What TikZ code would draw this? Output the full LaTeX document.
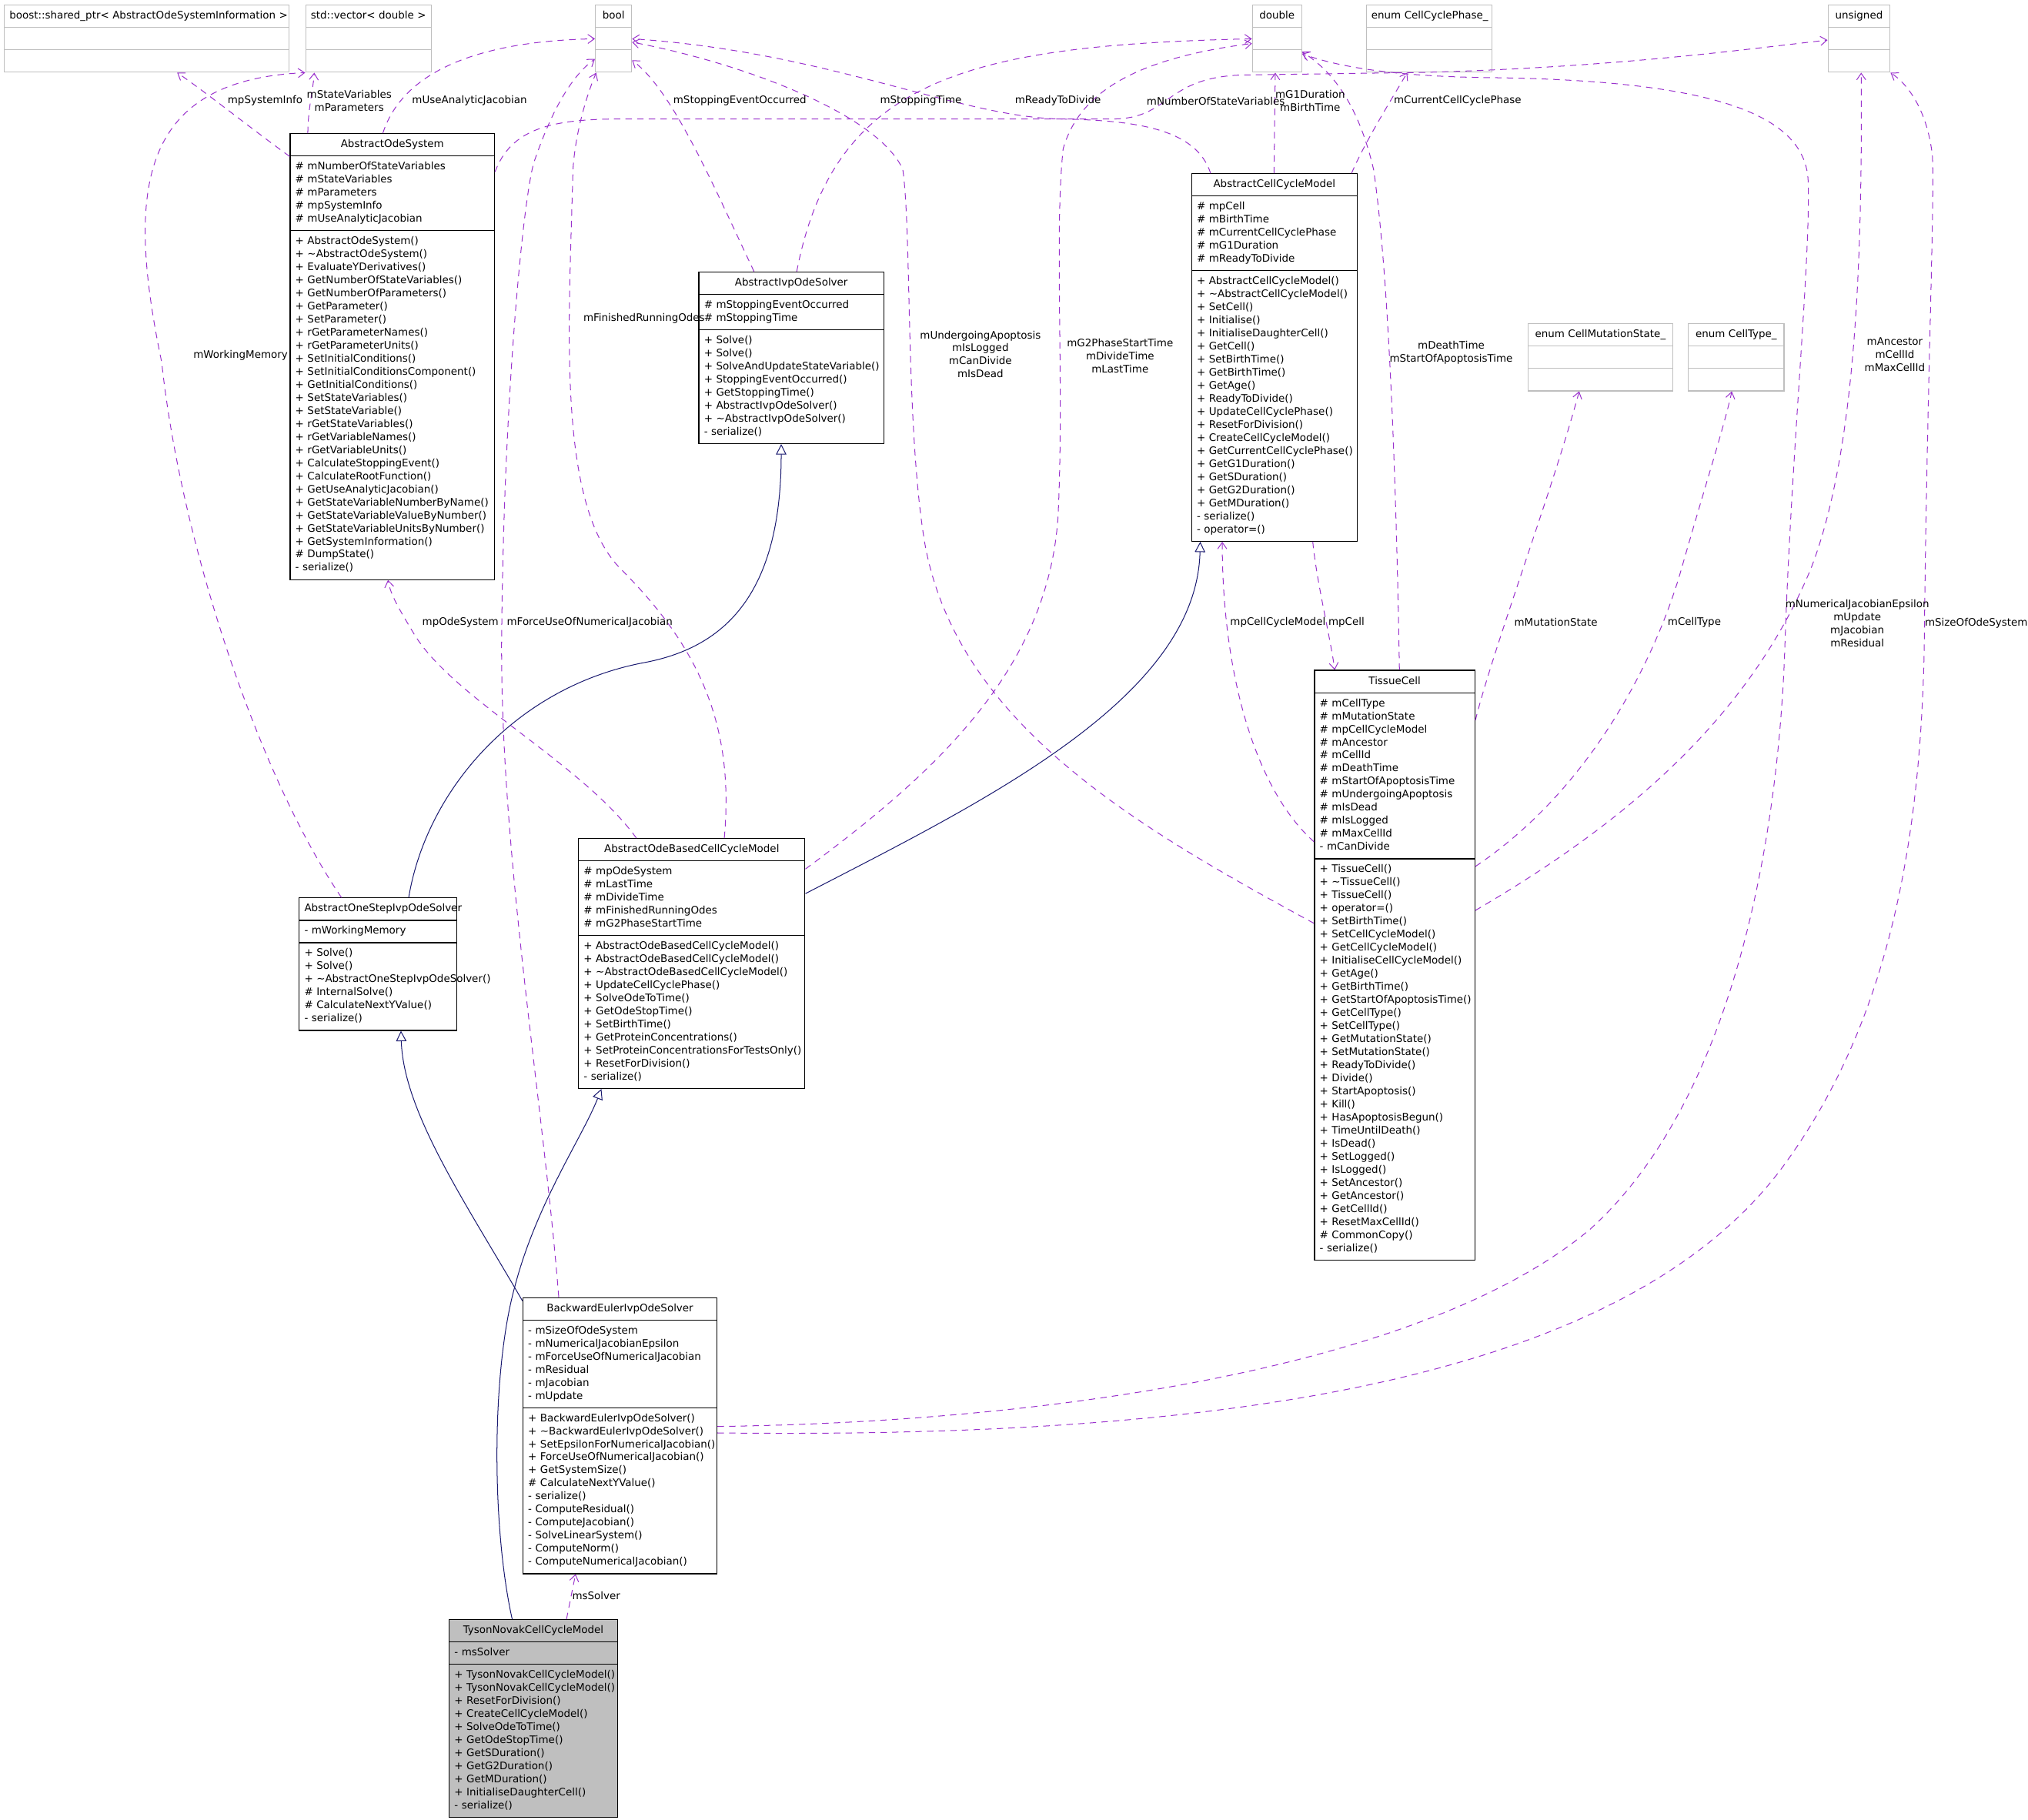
\documentclass[tikz,border=0pt]{standalone}
\usepackage{fontspec}
\newfontfamily\dxfont{DejaVu Sans}
\usetikzlibrary{shapes.multipart,arrows.meta}
\definecolor{dxpurple}{HTML}{9A32CD}
\definecolor{dxblue}{HTML}{191970}
\definecolor{dxgray}{HTML}{BFBFBF}
\newcommand{\dxsize}{\dxfont\fontsize{8}{10.1}\selectfont\parindent=0pt\hyphenpenalty=10000\exhyphenpenalty=10000}
\newcommand{\mpub}{+~}
\newcommand{\mpro}{\#~}
\newcommand{\mpri}{-~}
\newcommand{\dtor}{\textasciitilde}
\newcommand{\dxtitle}[1]{\centering\strut#1\strut\par}
\tikzset{
  dxclass/.style={rectangle split, rectangle split parts=3, draw=black, line width=0.7pt, fill=white, anchor=north west, inner xsep=4pt, inner ysep=3.25pt, align=left, font=\dxsize},
  dxtype/.style={dxclass, draw=dxgray},
  dxuse/.style={draw=dxpurple, line width=0.6pt, dash pattern=on 5pt off 4pt, -{Straight Barb[length=5pt,width=7pt]}},
  dxinherit/.style={draw=dxblue, line width=0.6pt, -{Triangle[open,length=8pt,width=8pt]}},
  dxlabel/.style={font=\dxsize, inner sep=0pt, align=center}
}

\begin{document}
\begin{tikzpicture}[x=1pt, y=-1pt]
\fill[white] (0,0) rectangle (1568,1407);
\useasboundingbox (0,0) rectangle (1568,1407);
\node[dxtype, text width=212pt] (boostptr) at (3,3.6) {\dxtitle{boost::shared\_ptr<~AbstractOdeSystemInformation~>}\nodepart{two}\strut\nodepart{three}\strut};
\node[dxtype, text width=89pt] (stdvec) at (236,3.6) {\dxtitle{std::vector<~double~>}\nodepart{two}\strut\nodepart{three}\strut};
\node[dxtype, text width=20pt] (boolt) at (460,3.6) {\dxtitle{bool}\nodepart{two}\strut\nodepart{three}\strut};
\node[dxtype, text width=30pt] (doublet) at (968,3.6) {\dxtitle{double}\nodepart{two}\strut\nodepart{three}\strut};
\node[dxtype, text width=89pt] (phaset) at (1056,3.6) {\dxtitle{enum~CellCyclePhase\_}\nodepart{two}\strut\nodepart{three}\strut};
\node[dxtype, text width=40pt] (unsignedt) at (1413,3.6) {\dxtitle{unsigned}\nodepart{two}\strut\nodepart{three}\strut};
\node[dxtype, text width=104pt] (mutt) at (1181,250) {\dxtitle{enum~CellMutationState\_}\nodepart{two}\strut\nodepart{three}\strut};
\node[dxtype, text width=66pt] (typet) at (1305,250) {\dxtitle{enum~CellType\_}\nodepart{two}\strut\nodepart{three}\strut};

\node[dxclass, text width=150pt] (odesys) at (224,103) {\dxtitle{AbstractOdeSystem}
  \nodepart{two}\strut\mpro mNumberOfStateVariables\\\mpro mStateVariables\\\mpro mParameters\\\mpro mpSystemInfo\\\mpro mUseAnalyticJacobian\strut
  \nodepart{three}\strut\mpub AbstractOdeSystem()\\\mpub\dtor AbstractOdeSystem()\\\mpub EvaluateYDerivatives()\\\mpub GetNumberOfStateVariables()\\\mpub GetNumberOfParameters()\\\mpub GetParameter()\\\mpub SetParameter()\\\mpub rGetParameterNames()\\\mpub rGetParameterUnits()\\\mpub SetInitialConditions()\\\mpub SetInitialConditionsComponent()\\\mpub GetInitialConditions()\\\mpub SetStateVariables()\\\mpub SetStateVariable()\\\mpub rGetStateVariables()\\\mpub rGetVariableNames()\\\mpub rGetVariableUnits()\\\mpub CalculateStoppingEvent()\\\mpub CalculateRootFunction()\\\mpub GetUseAnalyticJacobian()\\\mpub GetStateVariableNumberByName()\\\mpub GetStateVariableValueByNumber()\\\mpub GetStateVariableUnitsByNumber()\\\mpub GetSystemInformation()\\\mpro DumpState()\\\mpri serialize()\strut};
\node[dxclass, text width=135pt] (ivpsolver) at (540,210) {\dxtitle{AbstractIvpOdeSolver}
  \nodepart{two}\strut\mpro mStoppingEventOccurred\\\mpro mStoppingTime\strut
  \nodepart{three}\strut\mpub Solve()\\\mpub Solve()\\\mpub SolveAndUpdateStateVariable()\\\mpub StoppingEventOccurred()\\\mpub GetStoppingTime()\\\mpub AbstractIvpOdeSolver()\\\mpub\dtor AbstractIvpOdeSolver()\\\mpri serialize()\strut};
\node[dxclass, text width=120pt] (ccm) at (921,134) {\dxtitle{AbstractCellCycleModel}
  \nodepart{two}\strut\mpro mpCell\\\mpro mBirthTime\\\mpro mCurrentCellCyclePhase\\\mpro mG1Duration\\\mpro mReadyToDivide\strut
  \nodepart{three}\strut\mpub AbstractCellCycleModel()\\\mpub\dtor AbstractCellCycleModel()\\\mpub SetCell()\\\mpub Initialise()\\\mpub InitialiseDaughterCell()\\\mpub GetCell()\\\mpub SetBirthTime()\\\mpub GetBirthTime()\\\mpub GetAge()\\\mpub ReadyToDivide()\\\mpub UpdateCellCyclePhase()\\\mpub ResetForDivision()\\\mpub CreateCellCycleModel()\\\mpub GetCurrentCellCyclePhase()\\\mpub GetG1Duration()\\\mpub GetSDuration()\\\mpub GetG2Duration()\\\mpub GetMDuration()\\\mpri serialize()\\\mpri operator=()\strut};
\node[dxclass, text width=116pt] (tissuecell) at (1016,518) {\dxtitle{TissueCell}
  \nodepart{two}\strut\mpro mCellType\\\mpro mMutationState\\\mpro mpCellCycleModel\\\mpro mAncestor\\\mpro mCellId\\\mpro mDeathTime\\\mpro mStartOfApoptosisTime\\\mpro mUndergoingApoptosis\\\mpro mIsDead\\\mpro mIsLogged\\\mpro mMaxCellId\\\mpri mCanDivide\strut
  \nodepart{three}\strut\mpub TissueCell()\\\mpub\dtor TissueCell()\\\mpub TissueCell()\\\mpub operator=()\\\mpub SetBirthTime()\\\mpub SetCellCycleModel()\\\mpub GetCellCycleModel()\\\mpub InitialiseCellCycleModel()\\\mpub GetAge()\\\mpub GetBirthTime()\\\mpub GetStartOfApoptosisTime()\\\mpub GetCellType()\\\mpub SetCellType()\\\mpub GetMutationState()\\\mpub SetMutationState()\\\mpub ReadyToDivide()\\\mpub Divide()\\\mpub StartApoptosis()\\\mpub Kill()\\\mpub HasApoptosisBegun()\\\mpub TimeUntilDeath()\\\mpub IsDead()\\\mpub SetLogged()\\\mpub IsLogged()\\\mpub SetAncestor()\\\mpub GetAncestor()\\\mpub GetCellId()\\\mpub ResetMaxCellId()\\\mpro CommonCopy()\\\mpri serialize()\strut};
\node[dxclass, text width=167pt] (odeccm) at (447,648) {\dxtitle{AbstractOdeBasedCellCycleModel}
  \nodepart{two}\strut\mpro mpOdeSystem\\\mpro mLastTime\\\mpro mDivideTime\\\mpro mFinishedRunningOdes\\\mpro mG2PhaseStartTime\strut
  \nodepart{three}\strut\mpub AbstractOdeBasedCellCycleModel()\\\mpub AbstractOdeBasedCellCycleModel()\\\mpub\dtor AbstractOdeBasedCellCycleModel()\\\mpub UpdateCellCyclePhase()\\\mpub SolveOdeToTime()\\\mpub GetOdeStopTime()\\\mpub SetBirthTime()\\\mpub GetProteinConcentrations()\\\mpub SetProteinConcentrationsForTestsOnly()\\\mpub ResetForDivision()\\\mpri serialize()\strut};
\node[dxclass, text width=114pt] (onestep) at (231,694) {\dxtitle{AbstractOneStepIvpOdeSolver}
  \nodepart{two}\strut\mpri mWorkingMemory\strut
  \nodepart{three}\strut\mpub Solve()\\\mpub Solve()\\\mpub\dtor AbstractOneStepIvpOdeSolver()\\\mpro InternalSolve()\\\mpro CalculateNextYValue()\\\mpri serialize()\strut};
\node[dxclass, text width=142pt] (beuler) at (404,1003) {\dxtitle{BackwardEulerIvpOdeSolver}
  \nodepart{two}\strut\mpri mSizeOfOdeSystem\\\mpri mNumericalJacobianEpsilon\\\mpri mForceUseOfNumericalJacobian\\\mpri mResidual\\\mpri mJacobian\\\mpri mUpdate\strut
  \nodepart{three}\strut\mpub BackwardEulerIvpOdeSolver()\\\mpub\dtor BackwardEulerIvpOdeSolver()\\\mpub SetEpsilonForNumericalJacobian()\\\mpub ForceUseOfNumericalJacobian()\\\mpub GetSystemSize()\\\mpro CalculateNextYValue()\\\mpri serialize()\\\mpri ComputeResidual()\\\mpri ComputeJacobian()\\\mpri SolveLinearSystem()\\\mpri ComputeNorm()\\\mpri ComputeNumericalJacobian()\strut};
\node[dxclass, text width=122pt, fill=dxgray] (tyson) at (347,1252) {\dxtitle{TysonNovakCellCycleModel}
  \nodepart{two}\strut\mpri msSolver\strut
  \nodepart{three}\strut\mpub TysonNovakCellCycleModel()\\\mpub TysonNovakCellCycleModel()\\\mpub ResetForDivision()\\\mpub CreateCellCycleModel()\\\mpub SolveOdeToTime()\\\mpub GetOdeStopTime()\\\mpub GetSDuration()\\\mpub GetG2Duration()\\\mpub GetMDuration()\\\mpub InitialiseDaughterCell()\\\mpri serialize()\strut};

\draw[dxuse] ([yshift=-18pt]odesys.north west) .. controls (195,100) and (160,72) .. ([xshift=134pt]boostptr.south west);
\draw[dxuse] ([xshift=14pt]odesys.north west) .. controls (238,85) and (242,70) .. ([xshift=7pt]stdvec.south west);
\draw[dxuse] ([xshift=33pt]onestep.north west) .. controls (200,600) and (140,420) .. (125,280) .. controls (98,150) and (105,62) .. (stdvec.south west);
\draw[dxuse] ([xshift=72pt]odesys.north west) .. controls (310,60) and (360,32) .. ([yshift=-26.4pt]boolt.north west);
\draw[dxuse] ([xshift=43pt]ivpsolver.north west) .. controls (550,140) and (520,70) .. ([yshift=-43pt]boolt.north east);
\draw[dxuse] ([xshift=76pt]ivpsolver.north west) .. controls (645,60) and (750,35) .. ([yshift=-26.4pt]doublet.north west);
\draw[dxuse] ([xshift=15pt]ccm.north west) .. controls (925,100) and (880,93) .. (819,92) .. controls (740,90) and (640,40) .. ([yshift=-26.4pt]boolt.north east);
\draw[dxuse] ([yshift=-30pt]odesys.north east) .. controls (395,100) and (425,92) .. (480,92) -- (860,92) .. controls (905,92) and (900,60) .. (960,58) -- (1100,56) .. controls (1250,52) and (1350,38) .. ([yshift=-27.4pt]unsignedt.north west);
\draw[dxuse] ([xshift=64pt]ccm.north west) -- ([xshift=18pt]doublet.south west);
\draw[dxuse] ([xshift=124pt]ccm.north west) .. controls (1055,110) and (1080,70) .. ([xshift=32pt]phaset.south west);
\draw[dxuse] ([xshift=66pt]tissuecell.north west) .. controls (1080,400) and (1075,220) .. (1062,131) .. controls (1050,80) and (1030,55) .. ([yshift=-36.4pt]doublet.north east);
\draw[dxuse] ([yshift=-100pt]beuler.north east) .. controls (800,1100) and (1100,1060) .. (1230,950) .. controls (1340,850) and (1375,650) .. (1380,500) .. controls (1385,350) and (1400,200) .. (1398,140) .. controls (1396,90) and (1330,62) .. (1150,60) .. controls (1070,59) and (1030,50) .. ([yshift=-38pt]doublet.north east);
\draw[dxuse] ([yshift=-105pt]beuler.north east) .. controls (900,1112) and (1250,1080) .. (1380,900) .. controls (1460,790) and (1487,650) .. (1488,480) .. controls (1490,300) and (1496,150) .. (1494,120) .. controls (1490,85) and (1475,65) .. (unsignedt.south east);
\draw[dxuse] ([yshift=-186pt]tissuecell.north east) .. controls (1250,640) and (1350,560) .. (1400,440) .. controls (1435,350) and (1440,200) .. ([xshift=26pt]unsignedt.south west);
\draw[dxuse] ([yshift=-152pt]tissuecell.north east) .. controls (1230,610) and (1280,510) .. (1300,440) .. controls (1320,370) and (1333,330) .. ([xshift=34pt]typet.south west);
\draw[dxuse] ([yshift=-39pt]tissuecell.north east) .. controls (1155,500) and (1200,380) .. ([xshift=40pt]mutt.south west);
\draw[dxuse] ([yshift=-133pt]tissuecell.north west) .. controls (970,610) and (945,520) .. ([xshift=24pt]ccm.south west);
\draw[dxuse] ([xshift=94pt]ccm.south west) .. controls (1018,450) and (1028,490) .. ([xshift=16pt]tissuecell.north west);
\draw[dxuse] ([yshift=-196pt]tissuecell.north west) .. controls (880,640) and (740,560) .. (715,420) .. controls (700,330) and (705,180) .. (698,131) .. controls (680,90) and (580,50) .. ([yshift=-29pt]boolt.north east);
\draw[dxuse] ([yshift=-24pt]odeccm.north east) .. controls (720,600) and (810,520) .. (818,400) .. controls (823,300) and (815,180) .. (822,115) .. controls (835,70) and (880,45) .. ([yshift=-30pt]doublet.north west);
\draw[dxuse] ([xshift=113pt]odeccm.north west) .. controls (568,560) and (540,500) .. (480,440) .. controls (430,390) and (440,250) .. (443,131) .. controls (445,100) and (455,70) .. ([xshift=1pt]boolt.south west);
\draw[dxuse] ([xshift=28pt]beuler.north west) .. controls (420,850) and (385,650) .. (388,481) .. controls (390,300) and (405,150) .. (413,125) .. controls (425,90) and (440,60) .. ([yshift=-42pt]boolt.north west);
\draw[dxuse] ([xshift=45pt]odeccm.north west) .. controls (450,590) and (350,540) .. (320,490) .. controls (308,470) and (302,460) .. ([xshift=76pt]odesys.south west);
\draw[dxuse] ([xshift=91pt]tyson.north west) -- ([xshift=41pt]beuler.south west);

\draw[dxinherit] ([xshift=85pt]onestep.north west) .. controls (330,610) and (400,530) .. (500,512) .. controls (560,500) and (604,460) .. ([xshift=64pt]ivpsolver.south west);
\draw[dxinherit] ([yshift=-43pt]odeccm.north east) .. controls (760,620) and (925,540) .. ([xshift=7pt]ccm.south west);
\draw[dxinherit] ([yshift=-3pt]beuler.north west) .. controls (360,930) and (312,860) .. ([xshift=79pt]onestep.south west);
\draw[dxinherit] ([xshift=49pt]tyson.north west) .. controls (380,1180) and (380,1060) .. (398,995) .. controls (415,930) and (450,880) .. ([xshift=18pt]odeccm.south west);

\node[dxlabel] (lSysInfo) at (205,78) {mpSystemInfo};
\node[dxlabel] (lStateVars) at (270,78) {mStateVariables\\mParameters};
\node[dxlabel] (lWorkMem) at (186,275) {mWorkingMemory};
\node[dxlabel] (lAnalytic) at (363,78) {mUseAnalyticJacobian};
\node[dxlabel] (lStopEvent) at (572,78) {mStoppingEventOccurred};
\node[dxlabel] (lStopTime) at (712,78) {mStoppingTime};
\node[dxlabel] (lReady) at (818,78) {mReadyToDivide};
\node[dxlabel] (lNumState) at (940,78) {mNumberOfStateVariables};
\node[dxlabel] (lG1) at (1013,78) {mG1Duration\\mBirthTime};
\node[dxlabel] (lPhase) at (1127,78) {mCurrentCellCyclePhase};
\node[dxlabel] (lFinished) at (498,246) {mFinishedRunningOdes};
\node[dxlabel] (lApoptosis) at (758,274) {mUndergoingApoptosis\\mIsLogged\\mCanDivide\\mIsDead};
\node[dxlabel] (lG2) at (866,275) {mG2PhaseStartTime\\mDivideTime\\mLastTime};
\node[dxlabel] (lDeath) at (1122,273) {mDeathTime\\mStartOfApoptosisTime};
\node[dxlabel] (lAncestor) at (1465,274) {mAncestor\\mCellId\\mMaxCellId};
\node[dxlabel] (lOdeSys) at (356,481) {mpOdeSystem};
\node[dxlabel] (lForce) at (456,481) {mForceUseOfNumericalJacobian};
\node[dxlabel] (lCycleModel) at (988,481) {mpCellCycleModel};
\node[dxlabel] (lCell) at (1041,481) {mpCell};
\node[dxlabel] (lMutation) at (1203,481) {mMutationState};
\node[dxlabel] (lCellType) at (1310,481) {mCellType};
\node[dxlabel] (lNumJac) at (1436,482) {mNumericalJacobianEpsilon\\mUpdate\\mJacobian\\mResidual};
\node[dxlabel] (lSize) at (1528,482) {mSizeOfOdeSystem};
\node[dxlabel] (lSolver) at (461,1234) {msSolver};
\end{tikzpicture}
\end{document}
